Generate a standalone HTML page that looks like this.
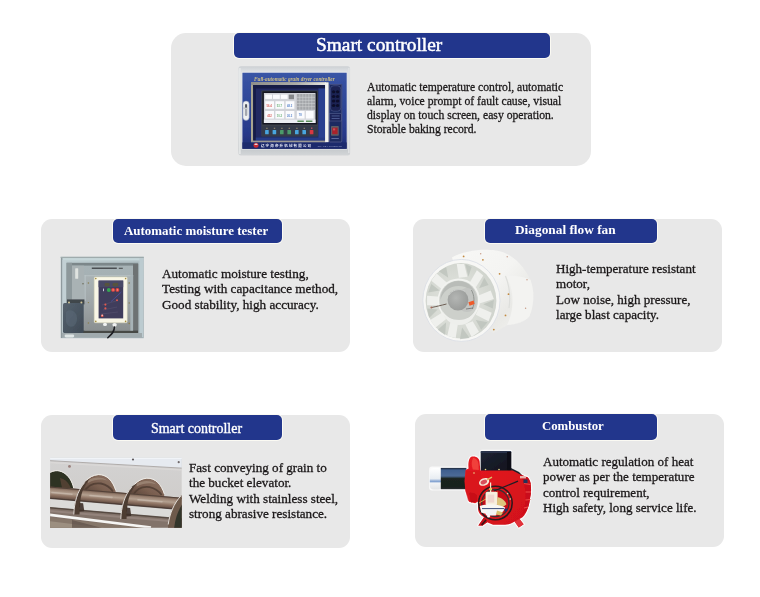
<!DOCTYPE html>
<html lang="en">
<head>
<meta charset="utf-8">
<title>Grain dryer components</title>
<style>
*{box-sizing:border-box;margin:0;padding:0}
html,body{width:760px;height:597px;background:#fff;overflow:hidden}
body{position:relative;font-family:"Liberation Serif","Times New Roman",serif;color:#1a1a1a}
.card{position:absolute;background:#e8e8e8;border-radius:11px}
.hd{position:absolute;background:#22368c;color:#fff;border-radius:5px;box-shadow:0 0 0 1px #fbfaf3;white-space:nowrap;font-weight:bold;font-size:13px}
.hd span{position:absolute;display:block;transform-origin:0 50%}
.tx{position:absolute;font-size:13.4px;line-height:15.4px;white-space:nowrap;color:#1a1718;-webkit-text-stroke:0.3px #1a1718;transform-origin:0 0}
.im{position:absolute;display:block}
</style>
</head>
<body>

<!-- card 1 -->
<div class="card" id="c1" style="left:171px;top:33px;width:419.5px;height:133px;border-radius:15px"></div>
<svg class="im" id="i1" style="left:234px;top:62px" width="120" height="98" viewBox="234 62 120 98">
<defs>
<linearGradient id="g1a" x1="0" y1="0" x2="0" y2="1"><stop offset="0" stop-color="#ccd0d4"/><stop offset=".05" stop-color="#dcdfe2"/><stop offset=".5" stop-color="#d9dcdf"/><stop offset=".93" stop-color="#c6cacd"/><stop offset="1" stop-color="#d3d6d8"/></linearGradient>
<linearGradient id="g1b" x1="0" y1="0" x2="0" y2="1"><stop offset="0" stop-color="#3a55a6"/><stop offset=".35" stop-color="#2f4899"/><stop offset=".8" stop-color="#27398a"/><stop offset="1" stop-color="#1f2c6e"/></linearGradient>
<linearGradient id="g1c" x1="0" y1="0" x2="1" y2="0"><stop offset="0" stop-color="#8f8f8a"/><stop offset=".6" stop-color="#adada8"/><stop offset="1" stop-color="#e6e6e2"/></linearGradient>
<filter id="b1" x="-5%" y="-5%" width="110%" height="110%"><feGaussianBlur stdDeviation=".5"/></filter>
</defs>
<g filter="url(#b1)">
<rect x="238.4" y="66.3" width="111.7" height="89.3" rx="2.5" fill="url(#g1a)"/>
<rect x="239.2" y="68" width="1.4" height="86" fill="#e9ebec"/>
<rect x="348" y="68" width="1.6" height="85" fill="#dfe1e3"/>
<rect x="241.6" y="71.8" width="105.6" height="77.6" fill="#eef0f1"/>
<rect x="242.4" y="72.7" width="104.3" height="76.1" fill="url(#g1b)"/>
<rect x="242.4" y="142.4" width="104.3" height="6.4" fill="#1f2b6c"/>
<text x="254" y="80.5" font-family="'Liberation Serif',serif" font-style="italic" font-weight="bold" font-size="5.4" fill="#cfc085" textLength="80.7" lengthAdjust="spacingAndGlyphs">Full-automatic grain dryer controller</text>
<!-- window frame -->
<rect x="251" y="82.3" width="77.6" height="59.8" fill="#a9a590"/>
<rect x="251" y="82.3" width="75" height="2.8" fill="url(#g1c)"/>
<rect x="253.200" y="85.1" width="72" height="55.6" fill="#222c62"/>
<rect x="253.200" y="85.1" width="72" height="3.400" fill="#161c44"/>
<rect x="253.200" y="85.1" width="2.600" height="55.6" fill="#171d46"/>
<rect x="318.5" y="88.5" width="6.7" height="50.5" fill="#2c4090"/>
<rect x="255.8" y="137.6" width="69.4" height="3.100" fill="#283a86"/>
<rect x="251" y="140.700" width="75" height="1.500" fill="#9b9a94"/>
<rect x="325.100" y="82.500" width="3.300" height="59.600" fill="#f3f3f1"/>
<!-- right column -->
<rect x="329" y="84" width="13.200" height="58.400" rx="1" fill="#1e2960"/>
<rect x="329.400" y="84.400" width="12.400" height="57.600" rx="1" fill="none" stroke="#6c7aaa" stroke-width=".5"/>
<!-- screen -->
<rect x="261.4" y="90.6" width="56.6" height="46" rx=".8" fill="#3c4048"/>
<rect x="262.4" y="91.4" width="54.8" height="33" fill="#121420"/>
<rect x="263.9" y="93" width="51.6" height="30" fill="#d1d3d8"/>
<rect x="263.9" y="119.6" width="51.6" height="3.400" fill="#eceef2"/>
<rect x="296.8" y="94" width="18.200" height="15.800" fill="#a4a6aa"/>
<g fill="#fbfbfd">
<rect x="265.2" y="94.6" width="6.8" height="4.3"/><rect x="273" y="94.6" width="6.8" height="4.3"/><rect x="280.8" y="94.6" width="6.8" height="4.3"/>
<rect x="265.2" y="101.2" width="8.8" height="7.6"/><rect x="275.4" y="101.2" width="8.8" height="7.6"/><rect x="285.6" y="101.2" width="8.8" height="7.6"/>
<rect x="265.2" y="111" width="8.8" height="7.6"/><rect x="275.4" y="111" width="8.8" height="7.6"/><rect x="285.6" y="111" width="8.8" height="7.6"/>
<rect x="296.8" y="111" width="7.8" height="7.6"/><rect x="305.8" y="111" width="7.8" height="7.6"/>
</g>
<rect x="288.8" y="94.6" width="5.2" height="4.6" fill="#85878a"/>
<g font-family="'Liberation Sans',sans-serif" font-size="2.7" font-weight="bold">
<text x="266.6" y="106.6" fill="#d8605a">56.4</text><text x="276.8" y="106.600" fill="#6ab278">53.7</text><text x="287" y="106.600" fill="#5a86cc">48.3</text>
<text x="267.2" y="116.600" fill="#d8605a">432</text><text x="276.8" y="116.600" fill="#6ab278">10.2</text><text x="287" y="116.600" fill="#5a86cc">26.3</text>
<text x="298.8" y="116.4" fill="#5a86cc">78</text>
</g>
<g stroke="#d4d6d9" stroke-width=".5" fill="none">
<path d="M299.8 94v15.800M302.8 94v15.800M305.8 94v15.800M308.8 94v15.800M311.8 94v15.800M296.8 97.3h18.200M296.8 100.4h18.200M296.8 103.5h18.200M296.8 106.6h18.200"/>
</g>
<rect x="297.4" y="120.6" width="6.400" height="1.2" fill="#3c7a3a"/><rect x="306" y="120.600" width="6.400" height="1.200" fill="#3c7a3a"/>
<!-- buttons -->
<rect x="262" y="126" width="55.600" height="10" fill="#363b48"/>
<g>
<rect x="265.100" y="130" width="3.600" height="4.200" rx=".5" fill="#4aa6e0"/>
<rect x="272.600" y="130" width="3.600" height="4.200" rx=".5" fill="#4aa6e0"/>
<rect x="280" y="130" width="3.600" height="4.200" rx=".5" fill="#4c9a6a"/>
<rect x="287.400" y="130" width="3.600" height="4.200" rx=".5" fill="#4c9a6a"/>
<rect x="295" y="130" width="3.600" height="4.200" rx=".5" fill="#4aa6e0"/>
<rect x="302.400" y="130" width="3.600" height="4.200" rx=".5" fill="#4aa6e0"/>
<rect x="309.800" y="130" width="3.600" height="4.200" rx=".5" fill="#d83842"/>
</g>
<g fill="#a89a7a"><rect x="266.2" y="127.8" width="1.4" height=".9"/><rect x="273.8" y="127.800" width="1.400" height=".9"/><rect x="281.2" y="127.800" width="1.400" height=".9"/><rect x="288.6" y="127.800" width="1.400" height=".9"/><rect x="296.2" y="127.800" width="1.400" height=".9"/><rect x="303.6" y="127.800" width="1.400" height=".9"/><rect x="311" y="127.600" width="1.400" height="1.100" fill="#e05a6a"/></g>
<!-- speaker -->
<rect x="330.400" y="85.800" width="10.400" height="25.400" rx="3.400" fill="#1a2252" stroke="#56649a" stroke-width=".5"/>
<g fill="#0c102c"><ellipse cx="333.600" cy="91.800" rx="1.700" ry="1.500"/><ellipse cx="337.600" cy="91.800" rx="1.700" ry="1.500"/><ellipse cx="333.600" cy="96.400" rx="1.700" ry="1.500"/><ellipse cx="337.600" cy="96.400" rx="1.700" ry="1.500"/><ellipse cx="333.600" cy="101" rx="1.700" ry="1.500"/><ellipse cx="337.600" cy="101" rx="1.700" ry="1.500"/><ellipse cx="333.600" cy="105.600" rx="1.700" ry="1.500"/><ellipse cx="337.600" cy="105.600" rx="1.700" ry="1.500"/></g>
<rect x="329.800" y="113.800" width="11.600" height="7.200" fill="#1a2458" stroke="#6c7aaa" stroke-width=".4"/>
<rect x="331.600" y="115.600" width="8" height=".7" fill="#5f6ea6"/><rect x="331.600" y="118" width="8" height=".7" fill="#5f6ea6"/>
<rect x="331" y="126" width="7.800" height="9.800" rx=".8" fill="#5c5e66"/>
<rect x="332.200" y="127.600" width="5.400" height="6.600" fill="#a8202c"/>
<rect x="333" y="128.400" width="2.200" height="2" fill="#c8505a"/>
<rect x="331.400" y="138" width="7.400" height=".8" fill="#6c7ab0"/>
<!-- lock -->
<rect x="242.9" y="101" width="6.3" height="19.400" rx="3.100" fill="#eef0f1" stroke="#7f8ab0" stroke-width=".5"/>
<rect x="244.9" y="104" width="2.400" height="12" rx="1.1" fill="#a4a8b0"/>
<rect x="243" y="107.400" width="4.400" height="1.700" fill="#c9ccd0"/>
<rect x="245.300" y="104.400" width="1.500" height="3.200" fill="#3b3f4c"/>
<!-- bottom brand -->
<circle cx="256" cy="145.300" r="2.500" fill="#cc2a30"/><path d="M254 144.600c1.300-1.400 2.800-1.400 4 0c-1.300.6-2.700.6-4 0z" fill="#e8ecf4"/>
<text x="260.900" y="146.500" font-family="'Liberation Sans','Noto Sans CJK SC',sans-serif" font-weight="bold" font-size="3.500" fill="#e6eaf6" textLength="50.200" lengthAdjust="spacing">辽宁海帝升机械有限公司</text>
<text x="317.400" y="147" font-family="'Liberation Sans',sans-serif" font-size="2.200" fill="#8f9ac4" textLength="24.600" lengthAdjust="spacingAndGlyphs">Tel: 024-89858988</text>
</g>
</svg>
<div class="hd" id="h1" style="left:234px;top:33px;width:315.5px;height:25px"><span style="left:82px;top:-0.9px;font-weight:normal;font-size:19.5px;line-height:25px;-webkit-text-stroke:0.5px #fff;transform:scaleX(.992)">Smart controller</span></div>
<div class="tx" id="t1" style="left:367.4px;top:79.6px;font-size:13.2px;line-height:14px;transform:scaleX(.887)">Automatic temperature control, automatic<br>alarm, voice prompt of fault cause, visual<br>display on touch screen, easy operation.<br>Storable baking record.</div>

<!-- card 2 -->
<div class="card" id="c2" style="left:41px;top:219px;width:309px;height:132.5px"></div>
<svg class="im" id="i2" style="left:56px;top:252px" width="92" height="90" viewBox="56 252 92 90">
<defs>
<linearGradient id="g2a" x1="0" y1="0" x2="1" y2="1"><stop offset="0" stop-color="#c0d0d3"/><stop offset=".5" stop-color="#b2c1c5"/><stop offset="1" stop-color="#a6b3b8"/></linearGradient>
<linearGradient id="g2b" x1="0" y1="0" x2="0" y2="1"><stop offset="0" stop-color="#a7b3b6"/><stop offset=".45" stop-color="#a3adb0"/><stop offset="1" stop-color="#8d9294"/></linearGradient>
<linearGradient id="g2m" x1="0" y1="0" x2="0" y2="1"><stop offset="0" stop-color="#aab3b5"/><stop offset=".5" stop-color="#9fa6a8"/><stop offset="1" stop-color="#8a8f90"/></linearGradient>
<linearGradient id="g2c" x1="0" y1="0" x2="1" y2="1"><stop offset="0" stop-color="#56626e"/><stop offset=".5" stop-color="#4a5662"/><stop offset="1" stop-color="#3e4954"/></linearGradient>
<filter id="b2" x="-5%" y="-5%" width="110%" height="110%"><feGaussianBlur stdDeviation=".5"/></filter>
</defs>
<g filter="url(#b2)">
<rect x="60.600" y="256.800" width="83.200" height="81.400" fill="url(#g2a)"/>
<rect x="60.600" y="256.800" width="83.200" height="1" fill="#98a3a5"/>
<rect x="62" y="258.200" width="80" height="2.200" fill="#c6d6d9"/>
<rect x="61" y="258" width="1.400" height="80" fill="#8f9a9e"/>
<rect x="62.400" y="260" width="3.600" height="76" fill="#c2d0d4"/>
<rect x="139.400" y="258" width="3.600" height="79" fill="#bccbd0"/>
<!-- recess -->
<rect x="66.600" y="262.800" width="71.600" height="70.300" fill="#7c878a"/>
<rect x="66.600" y="262.800" width="5.400" height="70" fill="#8d989b"/>
<rect x="72" y="265.600" width="61" height="65.200" fill="url(#g2b)"/>
<rect x="72" y="265.600" width="12" height="36" fill="#a9b2b4"/>
<rect x="133" y="264" width="5.200" height="68.800" fill="#6d7273"/>
<rect x="83" y="330.600" width="55" height="2.400" fill="#464945"/>
<rect x="62" y="333" width="80" height="4.600" fill="#a0aaad"/>
<!-- labels -->
<rect x="91.800" y="267.500" width="25" height="1.500" fill="#4c5052"/><rect x="118.800" y="267.700" width="4" height="1.300" fill="#5a5e60"/>
<rect x="75.200" y="268.200" width="3" height="10.600" rx=".6" fill="#dfe3e0"/>
<!-- mount plate -->
<rect x="84.600" y="275.200" width="48.600" height="55.400" fill="url(#g2m)"/>
<rect x="84.600" y="275.200" width="48.600" height="1" fill="#b6c0c2"/>
<rect x="84.600" y="275.200" width="1" height="26" fill="#bcc6c8"/>
<rect x="130.400" y="275.200" width="2.600" height="55.400" fill="#a7b3b7"/>
<g fill="#8a7f50"><circle cx="88.400" cy="283" r=".8"/><circle cx="88.400" cy="323" r=".8"/><circle cx="129.200" cy="283" r=".8"/><circle cx="129.200" cy="323.400" r=".8"/><circle cx="88.400" cy="302.600" r=".7"/><circle cx="129.200" cy="303" r=".7"/><circle cx="83" cy="283.800" r=".8" fill="#6f705e"/></g>
<!-- device -->
<rect x="94.200" y="277" width="33" height="45.800" rx="1" fill="#f8f6e6"/>
<rect x="94.200" y="277" width="33" height="45.800" rx="1" fill="none" stroke="#d9d4b4" stroke-width=".5"/>
<rect x="98.600" y="280.600" width="24.600" height="37.800" fill="#403c5c"/>
<rect x="98.600" y="280.600" width="24.600" height="6.600" fill="#4a4866"/>
<rect x="104.600" y="283" width="5" height="3.200" rx=".8" fill="#56533e"/><rect x="112.600" y="283" width="5.600" height="3.200" rx=".8" fill="#56533e"/>
<g fill="#a38b3c"><circle cx="95.800" cy="278.600" r=".8"/><circle cx="125.600" cy="278.600" r=".8"/><circle cx="95.800" cy="321.400" r=".8"/><circle cx="125.600" cy="321.400" r=".8"/></g>
<circle cx="108.800" cy="289.900" r="2" fill="#35a552"/><circle cx="113.100" cy="289.900" r="1.900" fill="#e8453c"/><circle cx="117.400" cy="289.900" r="1.900" fill="#e8453c"/>
<circle cx="113.100" cy="289.900" r=".6" fill="#f6b0a8"/><circle cx="117.400" cy="289.900" r=".6" fill="#f6b0a8"/>
<rect x="103" y="288.600" width="1" height="2.600" fill="#c8c8d8"/>
<path d="M111 301.600l10.400-9.600" stroke="#4a4f9a" stroke-width=".9" fill="none"/>
<path d="M102 305l14-4M103 310l14-3M101 314l17-2" stroke="#55526e" stroke-width=".6" fill="none"/>
<g fill="#e05a50"><circle cx="117" cy="300.200" r="1"/><circle cx="105.400" cy="304.600" r="1.100"/><circle cx="105.400" cy="308.400" r="1.100"/></g>
<circle cx="102.200" cy="315.800" r="1.300" fill="#e85a4c"/><circle cx="102.200" cy="315.200" r=".6" fill="#fff"/>
<!-- glands + cable -->
<ellipse cx="105" cy="324.400" rx="2" ry="1.700" fill="#f1f3f2"/><ellipse cx="114.600" cy="324.800" rx="2.200" ry="1.900" fill="#f1f3f2"/>
<path d="M114.400 327c.2 4.500-2.600 7.200-6.600 10.800" stroke="#1c1d20" stroke-width="1.500" fill="none" stroke-linecap="round"/>
<!-- junction box -->
<rect x="67" y="299.400" width="17.400" height="5" fill="#41474b"/>
<rect x="63" y="303" width="20.700" height="30" rx="1.500" fill="url(#g2c)"/>
<path d="M66 312c3-3 8-2 10 2c2 4 1 9-2 12c-3 2-7 0-8-4z" fill="#5c6c7a" opacity=".5"/>
<g fill="#d2c79a"><circle cx="69" cy="302.400" r="1"/><circle cx="81.400" cy="302.400" r="1"/></g>
<rect x="64.600" y="334.400" width="9.600" height="3" rx="1.400" fill="#dfe6e6"/>
</g>
</svg>
<div class="hd" id="h2" style="left:113px;top:218.5px;width:169px;height:24.5px"><span style="left:10.8px;top:0.6px;font-size:13.5px;line-height:24px;transform:scaleX(.958)">Automatic moisture tester</span></div>
<div class="tx" id="t2" style="left:162px;top:265.8px;transform:scaleX(.984)">Automatic moisture testing,<br>Testing with capacitance method,<br>Good stability, high accuracy.</div>

<!-- card 3 -->
<div class="card" id="c3" style="left:413px;top:219px;width:309px;height:133px"></div>
<svg class="im" id="i3" style="left:418px;top:246px" width="120" height="100" viewBox="418 246 120 100">
<defs>
<linearGradient id="g3a" x1="0" y1="0" x2="1" y2="1"><stop offset="0" stop-color="#f8f8f6"/><stop offset=".45" stop-color="#f4f4f2"/><stop offset=".7" stop-color="#e9e9e6"/><stop offset="1" stop-color="#f5f5f3"/></linearGradient>
<radialGradient id="g3b" cx=".45" cy=".5" r=".55"><stop offset="0" stop-color="#dfe2dc"/><stop offset=".6" stop-color="#d9dcd6"/><stop offset="1" stop-color="#d0d4cd"/></radialGradient>
<radialGradient id="g3c" cx=".4" cy=".4" r=".6"><stop offset="0" stop-color="#b4b6b4"/><stop offset="1" stop-color="#9a9c9a"/></radialGradient>
<filter id="b3" x="-5%" y="-5%" width="110%" height="110%"><feGaussianBlur stdDeviation=".5"/></filter>
</defs>
<g filter="url(#b3)">
<!-- rear housing -->
<path d="M452 257.5c10-6 28-8.500 38-7.500c18 0 32 12 40.500 30c4 10 4 24-1 36c-4 6-13 8.500-22 9l-14 8c-14-4-40-70-41.500-75.500z" fill="url(#g3a)"/>
<path d="M506 276c8 12 9 34 1 49c10-1 19-4 22.500-9c5-12 5-26 1-36c-6-3-16-5-24.500-4z" fill="#f3f3f1"/>
<path d="M505.500 276c4 10 5 22 3.500 32" stroke="#dddedb" stroke-width="1.200" fill="none"/>
<!-- front ring -->
<ellipse cx="461.400" cy="300.400" rx="38.600" ry="41" fill="#f7f7f5"/>
<ellipse cx="461.400" cy="300.400" rx="38.600" ry="41" fill="none" stroke="#d9dde4" stroke-width=".8"/>
<ellipse cx="461" cy="300.800" rx="35.400" ry="37.800" fill="url(#g3b)"/>
<!-- blades -->
<g fill="#eff0ed" transform="translate(461 300.8) scale(1.06) translate(-461 -300.8)">
<path d="M457 266l7 0 3 12-8 1z"/>
<path d="M476 272l6 5-7 11-6-4z"/>
<path d="M489 291l3 8-13 4-2-7z"/>
<path d="M490 312l-3 8-12-6 3-7z"/>
<path d="M478 330l-7 5-6-12 7-3z"/>
<path d="M456 336l-8-2 3-13 7 2z"/>
<path d="M437 326l-5-7 11-7 4 6z"/>
<path d="M429 305l0-9 13 1-1 8z"/>
<path d="M433 282l5-7 10 9-5 6z"/>
</g>
<g fill="#bcc2bb" opacity=".75" transform="translate(461 300.8) scale(1.06) translate(-461 -300.8)">
<path d="M465 266l6 3-3 9z"/><path d="M483 279l4 7-9 3z"/><path d="M492 300l-1 8-9-4z"/><path d="M486 321l-6 7-5-9z"/><path d="M469 336l-9 1 2-11z"/><path d="M446 333l-7-5 8-7z"/><path d="M431 317l-2-9 10 1z"/><path d="M430 293l3-8 8 6z"/><path d="M440 273l7-4 2 10z"/>
</g>
<!-- hub ring -->
<ellipse cx="458.800" cy="300.400" rx="21.200" ry="22" fill="#f2f3f0"/>
<ellipse cx="458.600" cy="300.600" rx="19.400" ry="20.200" fill="#cdd0cb"/>
<path d="M440.500 300c0-11 8-19 18-19c10 0 18 8 18 19c-2-8-9-14-18-14c-9 0-16 6-18 14z" fill="#b9bcb8"/>
<path d="M442 310c4 7 10 10 17 10c8 0 14-4 17-11c-1 10-8 16-17 16c-8 0-15-6-17-15z" fill="#eeefec"/>
<!-- motor -->
<ellipse cx="467" cy="300" rx="10" ry="12" fill="#c3c5c2"/>
<ellipse cx="458" cy="300" rx="10.400" ry="10.600" fill="url(#g3c)"/>
<path d="M449 295c3-5 10-7 16-4" stroke="#c9cbc9" stroke-width="1" fill="none"/>
<path d="M471.400 290c3 5 3.500 13 1 19" stroke="#8a8e8a" stroke-width=".9" fill="none"/>
<path d="M468.400 302.200l5.200-1.800 1 3.600-5 1.800z" fill="#ee5a2a"/>
<path d="M431.500 307.500c5-1 9-2 15-3.500" stroke="#6e5f55" stroke-width="1" fill="none"/>
<circle cx="431.400" cy="307.600" r="1" fill="#a56a5a"/>
<path d="M466 309l7-1" stroke="#6f6f6f" stroke-width=".8"/>
<!-- bolts -->
<g fill="#c2893f">
<circle cx="463.600" cy="256.400" r=".9"/><circle cx="482.900" cy="259.800" r=".9"/><circle cx="499.600" cy="273.800" r=".9"/><circle cx="508.500" cy="294.200" r=".9"/><circle cx="505.500" cy="315.400" r=".9"/><circle cx="493.800" cy="329.600" r=".9"/>
</g>
<g fill="#c79a86">
<circle cx="480.700" cy="253.700" r=".7"/><circle cx="507.200" cy="256.700" r=".7"/><circle cx="527" cy="279.700" r=".7"/><circle cx="525.600" cy="308.200" r=".7"/>
</g>
</g>
</svg>
<div class="hd" id="h3" style="left:484.5px;top:218.5px;width:172.8px;height:24.5px"><span style="left:30.8px;top:-0.4px;font-size:13.5px;line-height:24px;transform:scaleX(.987)">Diagonal flow fan</span></div>
<div class="tx" id="t3" style="left:556px;top:260.8px;transform:scaleX(.975)">High-temperature resistant<br>motor,<br>Low noise, high pressure,<br>large blast capacity.</div>

<!-- card 4 -->
<div class="card" id="c4" style="left:41px;top:415px;width:309px;height:133px"></div>
<svg class="im" id="i4" style="left:46px;top:454px" width="140" height="78" viewBox="46 454 140 78">
<defs>
<linearGradient id="g4a" x1="0" y1="0" x2="0" y2="1"><stop offset="0" stop-color="#d3d2d2"/><stop offset=".5" stop-color="#d0cecc"/><stop offset="1" stop-color="#d6d5d2"/></linearGradient>
<linearGradient id="g4s" gradientUnits="userSpaceOnUse" x1="49" y1="486.5" x2="48" y2="498.5"><stop offset="0" stop-color="#6a5446"/><stop offset=".22" stop-color="#9a8272"/><stop offset=".45" stop-color="#b3a090"/><stop offset=".7" stop-color="#8e7363"/><stop offset="1" stop-color="#5c483e"/></linearGradient>
<linearGradient id="g4f" x1="0" y1="1" x2="1" y2="0"><stop offset="0" stop-color="#4a382e"/><stop offset=".5" stop-color="#7a5f50"/><stop offset="1" stop-color="#8e7464"/></linearGradient>
<clipPath id="c4p"><rect x="50.100" y="457.800" width="131.600" height="70"/></clipPath>
<filter id="b4" x="-5%" y="-5%" width="110%" height="110%"><feGaussianBlur stdDeviation=".55"/></filter>
</defs>
<g filter="url(#b4)"><g clip-path="url(#c4p)">
<rect x="49" y="457" width="134" height="72" fill="url(#g4a)"/>
<!-- top flange -->
<path d="M49 457h134v11.200l-134-7.600z" fill="#e6eaf0"/>
<path d="M49 460.600l134 7.600" stroke="#b0acaa" stroke-width="1" fill="none"/>
<path d="M49 458.200h134" stroke="#f1f4f8" stroke-width="1.400"/>
<path d="M49 462.500l134 7.600" stroke="#dcdad8" stroke-width="1.600" fill="none" opacity=".8"/>
<circle cx="69.500" cy="466.400" r="1.400" fill="#9a807c"/><circle cx="133" cy="459.500" r="1.100" fill="#5f585a"/><circle cx="178.700" cy="462.200" r="1.100" fill="#6f686a"/>
<!-- under-shaft light trough wall -->
<path d="M49 496l134 12v22h-134z" fill="#dbdbd9"/>
<!-- lower bands -->
<path d="M49 507.200l134 11.600v12h-134z" fill="#82736a"/>
<path d="M49 507.600l134 11.600" stroke="#4e423a" stroke-width="1.500" fill="none" opacity=".85"/>
<path d="M49 511l134 11" stroke="#a09088" stroke-width="2" fill="none" opacity=".6"/>
<path d="M49 517.500l100 11h-100z" fill="#86776a"/>
<path d="M49 521l60 7.500h-60z" fill="#9c8f80"/>
<path d="M72 520l30 8h-30z" fill="#5e5048" opacity=".7"/>
<path d="M49 514.700l102 12.800" stroke="#f6f6f4" stroke-width="2.600" fill="none"/>
<!-- arch 1 (dark) -->
<path d="M49 473.500C53 470.500 58.500 470 63 472.500C68.500 475.500 72 481 73.600 488.500L49 488z" fill="#2e3022"/>
<path d="M60 478C65 479 69 483 71 488.500L62 488z" fill="#5a4636" opacity=".8"/>
<path d="M49 473.300C53 470.300 58.500 469.800 63 472.300C68.500 475.300 72.200 481 73.800 488.500" stroke="#eeebe6" stroke-width="1" fill="none"/>
<path d="M80.0 497.0C81.0 486.0 87.0 476.0 98.2 474.9C107.0 474.6 112.6 481.0 115.6 490.5L115.6 494.0L80.0 491.0Z" fill="url(#g4f)"/>
<path d="M84.0 492.0C88.0 485.0 94.0 482.5 101.0 483.5C106.0 484.5 110.0 487.0 113.0 491.5" stroke="#4a382e" stroke-width="1.8" fill="none" opacity=".75"/>
<path d="M88.0 480.0C94.0 476.5 103.0 476.5 108.0 481.0C104.0 479.0 96.0 478.5 88.0 483.0Z" fill="#a48e7e" opacity=".7"/>
<path d="M80.5 492.0C82.0 484.0 88.0 475.5 98.2 474.6C107.0 474.2 112.8 481.0 115.8 490.5" stroke="#eeebe6" stroke-width="1" fill="none"/>
<path d="M128.6 500.6C129.6 489.6 135.6 479.6 146.8 478.5C155.6 478.2 161.2 484.6 164.2 494.1L164.2 497.6L128.6 494.6Z" fill="url(#g4f)"/>
<path d="M132.6 495.6C136.6 488.6 142.6 486.1 149.6 487.1C154.6 488.1 158.6 490.6 161.6 495.1" stroke="#4a382e" stroke-width="1.8" fill="none" opacity=".75"/>
<path d="M136.6 483.6C142.6 480.1 151.6 480.1 156.6 484.6C152.6 482.6 144.6 482.1 136.6 486.6Z" fill="#a48e7e" opacity=".7"/>
<path d="M129.1 495.6C130.6 487.6 136.6 479.1 146.8 478.2C155.6 477.8 161.4 484.6 164.4 494.1" stroke="#eeebe6" stroke-width="1" fill="none"/>
<!-- shaft -->
<path d="M49 486.500l134 11.300v12.100l-134-11.500z" fill="url(#g4s)"/>
<path d="M49 487l134 11.300" stroke="#4a3a32" stroke-width="1" fill="none" opacity=".8"/>
<path d="M52 492.500l20 1.700M90 495.500l22 1.900M138 499.800l24 2" stroke="#cfc2b6" stroke-width="1.600" fill="none" opacity=".6" stroke-linecap="round"/>
<path d="M49 498.200l134 11.500" stroke="#3e302a" stroke-width="1.200" fill="none" opacity=".8"/>
<path d="M73.6 514.5C74.0 503.0 77.0 491.0 84.5 482.5C86.0 481.0 88.0 479.5 90.0 478.8C85.0 484.0 81.5 492.0 80.5 500.0C80.0 505.0 79.8 510.0 79.5 514.5Z" fill="#4e3c32"/>
<path d="M79.5 503.0l3.6 0.3l1.2 8l-5 .5z" fill="#3e3028" opacity=".9"/>
<path d="M73.8 514.5C74.2 503.0 77.2 491.0 84.7 482.5" stroke="#eeebe6" stroke-width=".9" fill="none"/>
<path d="M120.6 519.1C121.0 507.6 124.0 495.6 131.5 487.1C133.0 485.6 135.0 484.1 137.0 483.4C132.0 488.6 128.5 496.6 127.5 504.6C127.0 509.6 126.8 514.6 126.5 519.1Z" fill="#4e3c32"/>
<path d="M126.5 507.6l3.6 0.3l1.2 8l-5 .5z" fill="#3e3028" opacity=".9"/>
<path d="M120.8 519.1C121.2 507.6 124.2 495.6 131.7 487.1" stroke="#eeebe6" stroke-width=".9" fill="none"/>
<!-- right flight -->
<path d="M168 524.500C169.500 514 173.500 503.500 181 495.500L183 494.500v35h-15z" fill="#6e5a4c"/>
<path d="M174 529C175 519 178 510 183 503v26z" fill="#33342a"/>
<path d="M168.200 524.500C169.700 514 173.700 503.500 181.200 495.500" stroke="#eeebe6" stroke-width=".9" fill="none"/>
</g></g>
</svg>
<div class="hd" id="h4" style="left:113px;top:415px;width:169px;height:25.2px"><span style="left:37.75px;top:0.6px;font-weight:normal;font-size:14.1px;line-height:25px;-webkit-text-stroke:0.35px #fff;transform:scaleX(.99)">Smart controller</span></div>
<div class="tx" id="t4" style="left:189px;top:459.8px;transform:scaleX(.98)">Fast conveying of grain to<br>the bucket elevator.<br>Welding with stainless steel,<br>strong abrasive resistance.</div>

<!-- card 5 -->
<div class="card" id="c5" style="left:415px;top:414px;width:309px;height:133px"></div>
<svg class="im" id="i5" style="left:425px;top:446px" width="112" height="88" viewBox="425 446 112 88">
<defs>
<linearGradient id="g5t" x1="0" y1="0" x2="0" y2="1"><stop offset="0" stop-color="#1c2434"/><stop offset=".1" stop-color="#3f5f8e"/><stop offset=".38" stop-color="#4c6a96"/><stop offset=".5" stop-color="#1a2420"/><stop offset=".9" stop-color="#18201c"/><stop offset="1" stop-color="#2a2e30"/></linearGradient>
<linearGradient id="g5c" x1="0" y1="0" x2="0" y2="1"><stop offset="0" stop-color="#ffffff"/><stop offset=".5" stop-color="#e8edf2"/><stop offset=".62" stop-color="#7fa0d0"/><stop offset=".7" stop-color="#f2f4f6"/><stop offset="1" stop-color="#e2e4e6"/></linearGradient>
<linearGradient id="g5r" x1="0" y1="0" x2="1" y2="1"><stop offset="0" stop-color="#e51b23"/><stop offset=".5" stop-color="#dc141c"/><stop offset="1" stop-color="#cf1019"/></linearGradient>
<linearGradient id="g5b" x1="0" y1="0" x2="1" y2="1"><stop offset="0" stop-color="#1e2434"/><stop offset="1" stop-color="#10131c"/></linearGradient>
<filter id="b5" x="-5%" y="-5%" width="110%" height="110%"><feGaussianBlur stdDeviation=".5"/></filter>
</defs>
<g filter="url(#b5)">
<!-- halo -->
<g fill="#fafafa" stroke="#fafafa" stroke-width="2.400" stroke-linejoin="round">
<rect x="480.700" y="451" width="30.500" height="20.500" rx="1"/>
<path d="M472.800 456.600C476.500 456.200 479.200 458.500 479.600 461.600L480.300 470.600L512.700 470.600L520.300 474.400L527.800 477.400C530 480 531 483 530.800 485.700C531.300 490 531 494 530.100 497.700C529.600 501.500 529 505 527.800 508.300C526.600 512 524.800 515 522.500 517.300L519.500 519L523.600 524.300L518.800 527.400L514.600 521.600C511.500 523.600 508.500 524.800 505.200 524.800L493.100 524.800L487.100 522.300L482.600 525.600L478.400 525.400L484.100 517.300C480.600 515.300 478.600 512.800 478.100 509.800L478.100 501.500L475.100 503.300L469 501.800L467.500 496.500L465.300 490.200L464.500 481.200L465.500 470L468.600 468.500C468 464 468.600 460 470 458C470.800 457 471.800 456.700 472.800 456.600Z"/>
<rect x="430.300" y="467.700" width="36" height="21.500" rx="2"/>
</g>
<!-- tube -->
<rect x="429.800" y="468" width="12.400" height="21.600" rx="4" fill="url(#g5c)"/>
<rect x="440.800" y="467.900" width="25.600" height="21.300" fill="url(#g5t)"/>
<!-- black box -->
<rect x="480.700" y="451" width="30.500" height="20.500" rx="1" fill="url(#g5b)"/>
<path d="M480.700 452h30.500" stroke="#34405e" stroke-width="1.200"/>
<rect x="507" y="452" width="4.200" height="19" fill="#0c0e14"/>
<path d="M511 468l8 4l3 3-3 1-8-4z" fill="#1c202a"/>
<!-- red body -->
<path d="M472.800 456.600C476.500 456.200 479.200 458.500 479.600 461.600L480.300 470.600L512.700 470.600L520.300 474.400L527.800 477.400C530 480 531 483 530.800 485.700C531.300 490 531 494 530.100 497.700C529.600 501.500 529 505 527.800 508.300C526.600 512 524.800 515 522.500 517.300L519.500 519L523.600 524.300L518.800 527.400L514.600 521.600C511.500 523.600 508.500 524.800 505.200 524.800L493.100 524.800L487.100 522.300L482.600 525.600L478.400 525.400L484.100 517.300C480.600 515.300 478.600 512.800 478.100 509.800L478.100 501.500L475.100 503.300L469 501.800L467.500 496.500L465.300 490.200L464.500 481.200L465.500 470L468.600 468.500C468 464 468.600 460 470 458C470.800 457 471.800 456.700 472.800 456.600Z" fill="url(#g5r)"/>
<path d="M473 458c3 0 5 2.500 5.500 6l.3 6l-6-.5c-1.500-4-1.500-8 .2-11.500z" fill="#f0403a"/>
<path d="M469 493c3-1 6 0 8 2v6l-6 1.500z" fill="#b30d15"/>
<path d="M466 470.800h14.500v30h-12.500l-2.500-9z" fill="#d6131b" opacity=".6"/>
<!-- legs -->
<path d="M484.100 517.300l-5.700 8.100l4.200.2l4.500-3.300z" fill="#c3111a"/><path d="M481.600 525l4.600-5.200" stroke="#30161a" stroke-width="1.400"/>
<path d="M514.600 521.600l4.200 5.800l4.800-3.100l-4.100-5.300z" fill="#e2323a"/>
<!-- right fins -->
<path d="M520.300 474.400l7.500 3c2 2.500 3 5.500 3 8.300c.5 4 .3 8-.7 12c-.5 4-1.200 7.500-2.300 10.600l-5 6c2-6 3-12 3-18c0-8-2-15-5.500-21.900z" fill="#c9101a"/>
<path d="M524 483.500l6.500 1M525.500 492l5.500 0M525.500 500l5-.5M524 508l4-1" stroke="#ef4a48" stroke-width="1.200" fill="none"/>
<rect x="523.500" y="479.500" width="4" height="3.600" fill="#23305a"/>
<rect x="520" y="476" width="6" height="2.400" fill="#f0d8d0" opacity=".8"/>
<!-- ring -->
<circle cx="495.400" cy="503" r="16.800" fill="none" stroke="#2a1a1e" stroke-width="1.500"/>
<circle cx="495.400" cy="503" r="14" fill="#c40e17"/>
<circle cx="495.400" cy="503" r="13.600" fill="none" stroke="#1e3a3a" stroke-width="1.200" opacity=".85"/>
<path d="M493.900 491l24.100-9.800" stroke="#1e1e26" stroke-width="1.300" fill="none"/>
<path d="M479 503l19-11" stroke="#d9b84a" stroke-width=".9" fill="none"/>
<!-- logo -->
<ellipse cx="484.100" cy="481.900" rx="5.300" ry="3.700" fill="#f4e9d8" transform="rotate(-22 484.100 481.900)"/>
<ellipse cx="483.800" cy="482" rx="3.400" ry="2.100" fill="#d8505a" transform="rotate(-22 483.800 482)"/>
<path d="M487 479.800l5-2.600" stroke="#dcc06a" stroke-width="1.500"/>
<!-- pump -->
<path d="M490.600 482.500v10" stroke="#f4ecd8" stroke-width="1.200"/><circle cx="490.600" cy="489" r="1.500" fill="#e6c860"/>
<rect x="485.600" y="491.800" width="12" height="13.400" rx="1.800" fill="#f6efde"/>
<rect x="487.600" y="494.600" width="6.600" height="8" fill="#efd6ce"/>
<path d="M497.400 497c4.500 1 8 3.500 9 7.500l-5 3.500l-4.500-3.500z" fill="#dcc67e"/>
<path d="M479.800 506c7-2.600 17-2.600 25.400 1.400l-2 4c-6 3-15 3.600-22 1z" fill="#f7f7f3"/>
<path d="M482 508.600h22" stroke="#3a4a7a" stroke-width="1"/>
<rect x="485.600" y="510" width="11" height="5.600" rx="1.600" fill="#f2f4f4"/>
<path d="M497 510.500l6 2l-2 3l-5-1z" fill="#d8c070"/>
<circle cx="505.800" cy="510" r="1.400" fill="#1f2f7a"/>
<circle cx="488.600" cy="516" r="1.600" fill="#f6f6f4"/>
<circle cx="507.600" cy="493.600" r=".8" fill="#e6d8b0"/><circle cx="510.200" cy="499" r=".8" fill="#e6d8b0"/>
<g fill="#ecd88a"><circle cx="485.500" cy="469.500" r=".8"/><circle cx="499" cy="469.500" r=".8"/><circle cx="474" cy="473" r=".8"/></g>
</g>
</svg>
<div class="hd" id="h5" style="left:484.5px;top:414px;width:172.5px;height:25.5px"><span style="left:57.8px;top:-1px;font-size:13.5px;line-height:25px;transform:scaleX(.946)">Combustor</span></div>
<div class="tx" id="t5" style="left:543px;top:454px;transform:scaleX(.975)">Automatic regulation of heat<br>power as per the temperature<br>control requirement,<br>High safety, long service life.</div>

</body>
</html>
